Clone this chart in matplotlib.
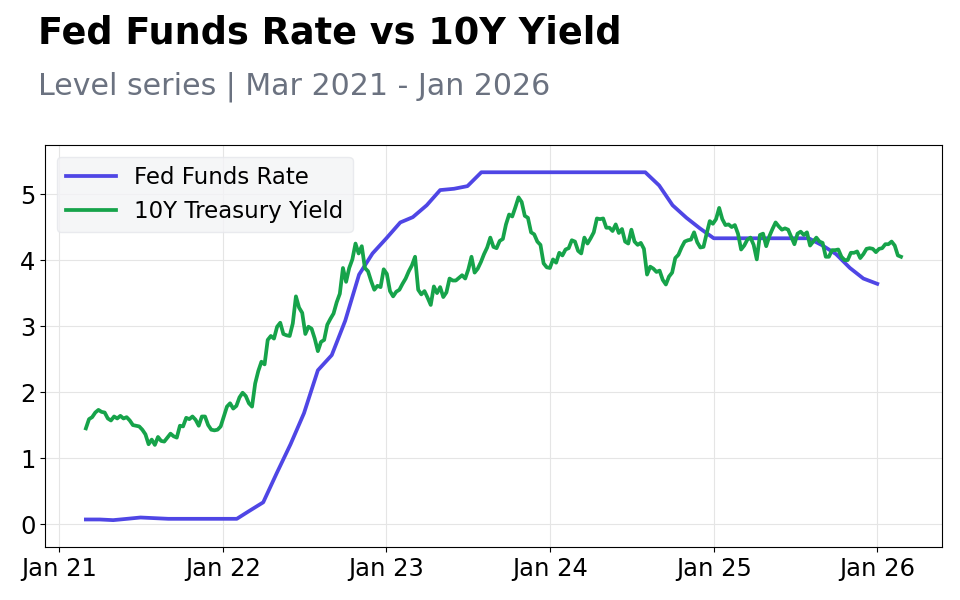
import pandas as pd
import matplotlib
matplotlib.use("Agg")
import matplotlib.pyplot as plt
import matplotlib.dates as mdates

# ---- data ------------------------------------------------------------------
# Fed funds effective rate, monthly, Mar 2021 .. Jan 2026
fed_start = "2021-03-01"
fed_values = [
    0.07, 0.07, 0.06, 0.08, 0.10, 0.09, 0.08, 0.08, 0.08, 0.08,                    # 2021
    0.08, 0.08, 0.20, 0.33, 0.77, 1.21, 1.68, 2.33, 2.56, 3.08, 3.78, 4.10,        # 2022
    4.33, 4.57, 4.65, 4.83, 5.06, 5.08, 5.12, 5.33, 5.33, 5.33, 5.33, 5.33,        # 2023
    5.33, 5.33, 5.33, 5.33, 5.33, 5.33, 5.33, 5.33, 5.13, 4.83, 4.64, 4.48,        # 2024
    4.33, 4.33, 4.33, 4.33, 4.33, 4.33, 4.33, 4.33, 4.22, 4.09, 3.88, 3.72,        # 2025
    3.64,                                                                          # 2026
]

# 10Y treasury yield, weekly (Mondays), Mar 2021 .. Feb 2026
ten_start = "2021-03-01"
ten_2021 = [
    1.45, 1.59, 1.62, 1.69, 1.73,
    1.70, 1.69, 1.60, 1.57,
    1.63, 1.60, 1.64, 1.60, 1.62,
    1.57, 1.50, 1.49, 1.48,
    1.43, 1.36, 1.21, 1.28,
    1.20, 1.32, 1.26, 1.25, 1.31,
    1.37, 1.33, 1.31, 1.49,
    1.48, 1.61, 1.59, 1.63,
    1.58, 1.49, 1.63, 1.63, 1.50,
    1.43, 1.42, 1.43, 1.48,
]
ten_2022 = [
    1.63, 1.78, 1.83, 1.75, 1.79,
    1.92, 1.99, 1.94, 1.83,
    1.78, 2.13, 2.32, 2.46,
    2.42, 2.79, 2.85, 2.81,
    2.99, 3.05, 2.88, 2.86, 2.85,
    3.04, 3.45, 3.28, 3.20,
    2.88, 2.99, 2.96, 2.81,
    2.62, 2.76, 2.79, 3.02, 3.11,
    3.19, 3.36, 3.49, 3.88,
    3.67, 3.88, 4.01, 4.25, 4.10,
    4.21, 3.88, 3.83, 3.68,
    3.55, 3.61, 3.59, 3.86,
]
ten_2023 = [
    3.79, 3.53, 3.45, 3.52, 3.55,
    3.64, 3.72, 3.83, 3.92,
    4.05, 3.55, 3.48, 3.53,
    3.43, 3.32, 3.60, 3.50,
    3.59, 3.44, 3.51, 3.72, 3.69,
    3.69, 3.73, 3.77, 3.72,
    3.86, 4.05, 3.81, 3.87, 3.97,
    4.09, 4.19, 4.34, 4.20,
    4.18, 4.29, 4.32, 4.54,
    4.69, 4.66, 4.80, 4.95, 4.88,
    4.67, 4.64, 4.42, 4.39,
    4.28, 4.23, 3.95, 3.89,
]
ten_2024 = [
    3.88, 4.01, 3.96, 4.11, 4.07,
    4.16, 4.18, 4.30, 4.28,
    4.14, 4.10, 4.34, 4.25,
    4.33, 4.42, 4.63, 4.62, 4.63,
    4.49, 4.49, 4.44, 4.54,
    4.41, 4.47, 4.28, 4.25,
    4.46, 4.28, 4.23, 4.26, 4.17,
    3.78, 3.90, 3.87, 3.82,
    3.84, 3.70, 3.63, 3.75, 3.81,
    4.03, 4.08, 4.19, 4.28,
    4.30, 4.31, 4.42, 4.27,
    4.19, 4.20, 4.40, 4.59, 4.55,
]
ten_2025 = [
    4.62, 4.79, 4.62, 4.53,
    4.54, 4.50, 4.53, 4.40,
    4.16, 4.22, 4.31, 4.34, 4.23,
    4.01, 4.38, 4.40, 4.21,
    4.36, 4.47, 4.57, 4.51,
    4.46, 4.48, 4.46, 4.35, 4.24,
    4.40, 4.43, 4.38, 4.42,
    4.22, 4.28, 4.34, 4.28,
    4.26, 4.05, 4.05, 4.15, 4.15,
    4.16, 4.05, 4.00, 4.00,
    4.11, 4.11, 4.13, 4.03,
    4.09, 4.17, 4.18, 4.17, 4.12,
]
ten_2026 = [4.17, 4.18, 4.24, 4.24, 4.28, 4.22, 4.07, 4.05]
ten_values = ten_2021 + ten_2022 + ten_2023 + ten_2024 + ten_2025 + ten_2026

fed = pd.Series(fed_values,
                index=pd.date_range(fed_start, periods=len(fed_values), freq="MS"))
ten = pd.Series(ten_values,
                index=pd.date_range(ten_start, periods=len(ten_values), freq="W-MON"))

FED_COLOR = "#4f46e5"
TEN_COLOR = "#16a34a"

# ---- figure ----------------------------------------------------------------
fig = plt.figure(figsize=(9.6, 6), dpi=100)
ax = fig.add_axes([0.047, 0.088, 0.934, 0.670])

ax.plot(fed.index, fed.values, color=FED_COLOR, lw=2.7, label="Fed Funds Rate")
ax.plot(ten.index, ten.values, color=TEN_COLOR, lw=2.7, label="10Y Treasury Yield")

ax.set_ylim(-0.35, 5.74)
ax.set_yticks([0, 1, 2, 3, 4, 5])
ax.xaxis.set_major_locator(mdates.YearLocator())
ax.xaxis.set_major_formatter(mdates.DateFormatter("%b %y"))
ax.tick_params(labelsize=17.5)
ax.grid(True, color="#e5e5e5", lw=0.8)
ax.set_axisbelow(True)

leg = ax.legend(loc="upper left", fontsize=16.5, facecolor="#f3f4f6",
                edgecolor="#e5e7eb", framealpha=0.8, handlelength=2.2)

fig.text(0.040, 1 - 44 / 600, "Fed Funds Rate vs 10Y Yield", fontsize=26.4,
         fontweight="bold", va="baseline", ha="left")
fig.text(0.040, 1 - 95 / 600, "Level series | Mar 2021 - Jan 2026", fontsize=21.6,
         color="#6b7280", va="baseline", ha="left")

fig.savefig("out.png", dpi=100)
